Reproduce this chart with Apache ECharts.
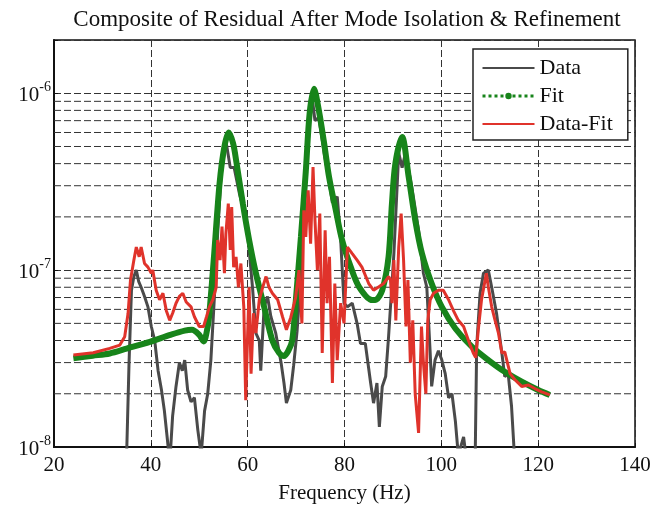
<!DOCTYPE html>
<html>
<head>
<meta charset="utf-8">
<script src="https://cdn.jsdelivr.net/npm/echarts@6/dist/echarts.min.js"></script>
<style>
html, body { margin: 0; padding: 0; background: #fff; }
#chart { width: 666px; height: 506px; }
</style>
</head>
<body>
<div id="chart"></div>
<script>
const dataHz = [35.0, 35.5, 36.0, 36.5, 37.0, 37.5, 38.0, 38.7, 39.4, 40.1, 40.8, 41.5, 42.2, 42.8, 43.5, 43.9,
  44.5, 45.2, 45.9, 46.5, 47.0, 47.6, 48.3, 49.0, 49.7, 50.4, 51.1, 51.75, 52.4, 53.1, 53.8, 54.5, 55.5,
  56.4, 57.2, 58.3, 59.6, 60.3, 61.0, 61.7, 62.4, 62.7, 63.4, 64.1, 64.8, 65.8, 66.9, 67.5, 68.0, 68.9,
  69.5, 70.2, 71.0, 71.6, 72.3, 73.4, 73.9, 74.7, 75.8, 76.8, 77.5, 78.5, 79.2, 79.9, 80.6, 81.6, 82.6,
  83.3, 84.3, 85.4, 86.0, 86.7, 87.2, 87.8, 88.5, 89.1, 90.2, 91.2, 91.9, 92.6, 93.9, 95.3, 96.3, 97.0,
  97.7, 98.0, 98.7, 99.4, 100.1, 100.8, 101.5, 102.2, 102.9, 103.5, 104.6, 105.3, 106.5, 107.0, 107.3,
  108.0, 108.7, 109.7, 110.4, 111.4, 112.5, 113.1, 113.8, 114.5, 115.2, 116.0];
const dataAmp = [9e-9, 3.0e-8, 7.7e-8, 9.2e-8, 1.0e-7, 8.6e-8, 8.0e-8, 7.1e-8, 6.2e-8, 4.8e-8, 4.0e-8, 2.7e-8, 2.1e-8, 1.6e-8, 1.05e-8, 8e-9,
  1.5e-8, 2.2e-8, 3.0e-8, 2.7e-8, 3.1e-8, 2.1e-8, 1.8e-8, 1.9e-8, 1.25e-8, 9e-9, 1.6e-8, 2.0e-8, 3.1e-8, 6.8e-8, 1.6e-7, 3.4e-7, 5.4e-7,
  3.8e-7, 3.8e-7, 2.7e-7, 2.0e-7, 1.3e-7, 8.0e-8, 4.4e-8, 4.0e-8, 2.7e-8, 6.2e-8, 7.1e-8, 5.45e-8, 4.4e-8, 3.0e-8, 2.3e-8, 1.77e-8, 2.1e-8,
  2.9e-8, 4.5e-8, 9.2e-8, 2.4e-7, 5.7e-7, 9.1e-7, 7.0e-7, 7.3e-7, 4.6e-7, 3.2e-7, 2.4e-7, 2.6e-7, 1.5e-7, 6.5e-8, 6.2e-8, 6.5e-8, 5.0e-8,
  3.85e-8, 3.85e-8, 2.3e-8, 1.77e-8, 2.3e-8, 1.3e-8, 2.2e-8, 2.5e-8, 4.2e-8, 1.24e-7, 4.6e-7, 3.8e-7, 4.6e-7, 2.95e-7, 1.68e-7, 9.6e-8, 8.0e-8,
  3.4e-8, 2.2e-8, 3.1e-8, 3.5e-8, 3.1e-8, 2.6e-8, 1.9e-8, 2.0e-8, 1.4e-8, 9e-9, 1.14e-8, 8e-9, 8e-9, 9e-9, 3.7e-8,
  7.4e-8, 9.6e-8, 1.0e-7, 8.0e-8, 5.7e-8, 3.4e-8, 2.5e-8, 2.6e-8, 1.7e-8, 8e-9, 5e-9];

// Fit
const fitHz = [24.0, 28.0, 31.5, 35.0, 39.8, 44.0, 47.0, 48.5, 50.0, 50.9, 51.75, 52.1, 53.1, 54.2, 55.2, 56.1,
  57.0, 57.6, 59.0, 60.3, 61.7, 63.4, 65.1, 66.5, 67.5, 68.4, 69.2, 69.9, 71.0, 72.0, 72.8, 73.7, 74.7,
  75.8, 76.8, 78.2, 79.5, 81.3, 83.0, 85.7, 86.5, 87.8, 89.1, 89.8, 90.5, 91.9, 93.25, 94.6, 96.0, 98.0,
  100.1, 102.9, 106.3, 109.7, 113.1, 116.6, 120.0, 122.4];
const fitAmp = [3.17e-8, 3.28e-8, 3.38e-8, 3.6e-8, 3.93e-8, 4.3e-8, 4.55e-8, 4.6e-8, 4.3e-8, 3.95e-8, 4.8e-8, 5.7e-8, 1.25e-7, 3.1e-7, 5.0e-7, 6.0e-7,
  5.2e-7, 4.2e-7, 2.38e-7, 1.48e-7, 9.6e-8, 6.2e-8, 4.0e-8, 3.4e-8, 3.27e-8, 3.5e-8, 4.0e-8, 6.5e-8, 1.54e-7, 3.6e-7, 7.7e-7, 1.06e-6, 8.0e-7,
  5.2e-7, 3.37e-7, 2.18e-7, 1.48e-7, 1.04e-7, 8.05e-8, 6.77e-8, 6.8e-8, 7.7e-8, 1.19e-7, 2.38e-7, 4.0e-7, 5.66e-7, 3.37e-7, 1.92e-7, 1.24e-7, 8.4e-8,
  6.2e-8, 4.68e-8, 3.69e-8, 3.1e-8, 2.66e-8, 2.34e-8, 2.1e-8, 1.97e-8];

// Data-Fit residual
const resHz = [24.0, 28.1, 31.5, 33.6, 34.6, 35.3, 35.8, 36.5, 37.0, 37.6, 38.0, 38.7, 39.4, 40.1, 40.4, 41.1,
  41.8, 42.5, 43.2, 43.9, 44.5, 45.2, 45.9, 46.6, 47.3, 48.3, 49.0, 50.0, 50.9, 51.5, 52.1, 52.8, 53.5,
  53.8, 54.3, 54.7, 55.2, 55.5, 56.0, 56.4, 56.7, 57.1, 57.6, 58.1, 58.6, 59.2, 59.6, 60.0, 60.3, 60.7,
  61.2, 61.7, 62.4, 63.1, 63.8, 64.4, 65.1, 66.2, 67.2, 68.0, 68.9, 69.9, 70.6, 71.2, 71.6, 72.0, 72.5,
  73.0, 73.5, 73.9, 74.4, 74.9, 75.4, 76.0, 76.4, 76.9, 77.5, 78.0, 78.5, 79.2, 79.9, 80.6, 81.6, 82.6,
  83.6, 85.0, 86.0, 87.1, 88.1, 89.1, 89.5, 89.8, 90.2, 90.6, 91.2, 91.7, 92.2, 92.7, 93.1, 93.6, 94.1,
  94.6, 95.3, 95.9, 96.3, 96.8, 97.2, 97.7, 98.4, 99.4, 100.4, 101.5, 102.5, 103.5, 104.6, 105.6, 106.6,
  107.1, 107.7, 108.3, 109.3, 109.7, 110.4, 111.1, 111.8, 112.5, 113.1, 113.5, 114.2, 115.2, 116.6, 118.0,
  119.3, 120.7, 122.4];
const resAmp = [3.31e-8, 3.41e-8, 3.61e-8, 3.77e-8, 4.2e-8, 5.7e-8, 8.8e-8, 1.14e-7, 1.35e-7, 1.19e-7, 1.35e-7, 1.09e-7, 1.04e-7, 9.6e-8, 1.0e-7, 7.7e-8,
  6.8e-8, 7.4e-8, 5.9e-8, 5.2e-8, 5.7e-8, 6.5e-8, 7.1e-8, 7.4e-8, 6.6e-8, 6.2e-8, 5.45e-8, 4.8e-8, 4.8e-8, 5.45e-8, 6.2e-8, 6.8e-8, 8.0e-8,
  1.48e-7, 1.14e-7, 1.76e-7, 9.6e-8, 1.61e-7, 2.38e-7, 1.3e-7, 2.27e-7, 1.04e-7, 1.19e-7, 8.0e-8, 1.09e-7, 6.2e-8, 1.84e-8, 4.4e-8, 8.0e-8, 2.6e-8,
  5.7e-8, 4.4e-8, 6.8e-8, 8.0e-8, 9.2e-8, 8.0e-8, 7.4e-8, 6.8e-8, 5.45e-8, 4.6e-8, 5.4e-8, 7.0e-8, 1.0e-7, 5.0e-8, 2.18e-7, 1.54e-7, 2.83e-7,
  1.41e-7, 3.83e-7, 1.92e-7, 1.0e-7, 2.09e-7, 3.4e-8, 1.68e-7, 6.5e-8, 1.19e-7, 2.3e-8, 8.4e-8, 3.1e-8, 6.5e-8, 5.0e-8, 1.35e-7, 1.24e-7, 1.14e-7,
  1.04e-7, 8.4e-8, 7.7e-8, 8.05e-8, 8.4e-8, 9.2e-8, 8.8e-8, 6.5e-8, 1.14e-7, 5.2e-8, 1.35e-7, 2.09e-7, 1.14e-7, 4.8e-8, 8.8e-8, 3.0e-8, 5.2e-8,
  2.0e-8, 1.2e-8, 4.8e-8, 3.0e-8, 2.0e-8, 5.2e-8, 6.8e-8, 7.4e-8, 7.7e-8, 7.7e-8, 6.8e-8, 5.9e-8, 5.2e-8, 4.8e-8, 4.0e-8, 3.4e-8,
  3.2e-8, 4.8e-8, 6.8e-8, 9.6e-8, 8.05e-8, 6.2e-8, 5.2e-8, 4.4e-8, 3.4e-8, 3.45e-8, 3.4e-8, 2.6e-8, 2.4e-8, 2.2e-8, 2.24e-8,
  2.14e-8, 2.05e-8, 1.97e-8];

// minor log grid lines (MATLAB style)
const minorGrid = [2e-8, 3e-8, 4e-8, 5e-8, 6e-8, 7e-8, 8e-8, 9e-8, 2e-7, 3e-7, 4e-7, 5e-7, 6e-7, 7e-7, 8e-7, 9e-7];
const xTicks = [20, 40, 60, 80, 100, 120, 140];

const zip = (a, b) => a.map((v, i) => [v, b[i]]);
const serif = 'Liberation Serif';
const dash = [7, 3];

// one dashed horizontal series per minor grid value
const gridSeries = minorGrid.map(v => ({
  name: 'minor' + v,
  type: 'line',
  data: [[xTicks[0], v], [xTicks[xTicks.length - 1], v]],
  symbol: 'none',
  silent: true,
  z: 1,
  lineStyle: { type: dash, color: '#333', width: 1 },
  emphasis: { disabled: true }
}));

let myChart = echarts.init(document.getElementById('chart'));
let option = {
  animation: false,
  title: {
    text: 'Composite of Residual After Mode Isolation & Refinement',
    left: 342,
    textAlign: 'center',
    top: 3,
    textStyle: { fontFamily: serif, fontSize: 23, fontWeight: 'normal', color: '#111' }
  },
  legend: {
    left: 473,
    top: 49,
    orient: 'vertical',
    itemWidth: 52,
    itemHeight: 8,
    itemGap: 6,
    padding: [8, 15, 5, 8],
    borderColor: '#222',
    borderWidth: 1.5,
    backgroundColor: '#fff',
    textStyle: { fontFamily: serif, fontSize: 22, color: '#111', lineHeight: 21 },
    data: [
      { name: 'Data', itemStyle: { opacity: 0 } },
      { name: 'Fit', lineStyle: { type: 'dotted', width: 3 } },
      { name: 'Data-Fit', itemStyle: { opacity: 0 } }
    ]
  },
  grid: {
    left: 54, right: 31, top: 40, bottom: 59,
    outerBoundsMode: 'none',
    containLabel: false,
    show: true, borderColor: '#111', borderWidth: 1.5
  },
  xAxis: {
    type: 'value',
    min: xTicks[0], max: xTicks[xTicks.length - 1], interval: 20,
    name: 'Frequency (Hz)',
    nameLocation: 'middle',
    nameGap: 36,
    nameTextStyle: { fontFamily: serif, fontSize: 21, color: '#111' },
    axisLine: { lineStyle: { color: '#111', width: 2 } },
    axisTick: { inside: true, length: 4, lineStyle: { color: '#111' } },
    axisLabel: { fontFamily: serif, fontSize: 21, color: '#111', margin: 8 },
    splitLine: { lineStyle: { type: dash, color: '#333', width: 1 } }
  },
  yAxis: {
    type: 'log',
    logBase: 10,
    min: 1e-8, max: 2e-6,
    axisLine: { show: true, lineStyle: { color: '#111', width: 2 } },
    axisTick: { inside: true, length: 4, lineStyle: { color: '#111' } },
    axisLabel: {
      margin: 3,
      formatter: function (v) {
        const e = Math.log10(v);
        const r = Math.round(e);
        if (Math.abs(e - r) > 1e-6) return '';
        return '{b|10}{s|' + r + '}';
      },
      rich: {
        b: { fontFamily: serif, fontSize: 21, color: '#111', verticalAlign: 'bottom', lineHeight: 26 },
        s: { fontFamily: serif, fontSize: 14, color: '#111', verticalAlign: 'top' }
      }
    },
    splitLine: { lineStyle: { type: dash, color: '#333', width: 1 } }
  },
  series: gridSeries.concat([
    {
      name: 'Data',
      type: 'line',
      data: zip(dataHz, dataAmp),
      symbol: 'none',
      z: 2,
      lineStyle: { color: '#4a4a4a', width: 3 },
      itemStyle: { color: '#4a4a4a' }
    },
    {
      name: 'Fit',
      type: 'line',
      data: zip(fitHz, fitAmp),
      smooth: 0.3,
      symbol: 'circle',
      symbolSize: 7,
      showSymbol: false,
      z: 3,
      lineStyle: { color: '#17841a', width: 6 },
      itemStyle: { color: '#17841a' }
    },
    {
      name: 'Data-Fit',
      type: 'line',
      data: zip(resHz, resAmp),
      symbol: 'none',
      z: 4,
      lineStyle: { color: '#e0332b', width: 3 },
      itemStyle: { color: '#e0332b' }
    }
  ])
};
myChart.setOption(option);
</script>
</body>
</html>
